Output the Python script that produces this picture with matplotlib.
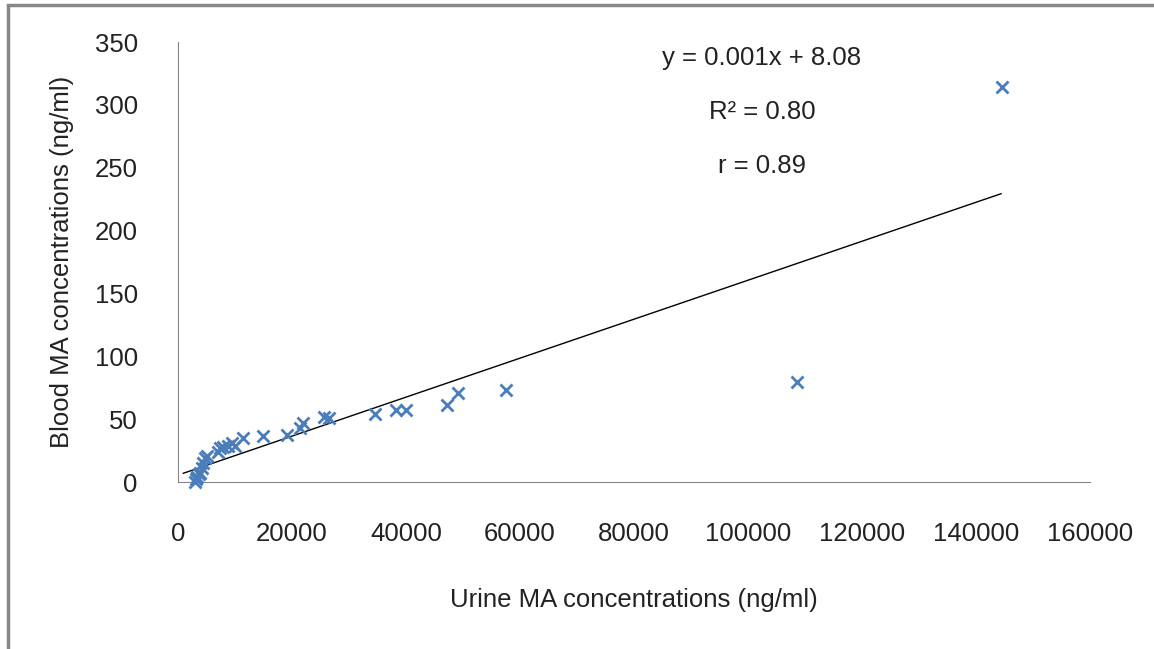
import numpy as np
import matplotlib.pyplot as plt
from matplotlib.patches import Rectangle

plt.rcParams['font.family'] = ['Liberation Sans', 'DejaVu Sans']

# urine vs blood MA concentrations (ng/ml)
urine = [3000, 3160, 3330, 3680, 3860, 4200, 4390, 4740, 5090, 7020, 7370, 7900,
         8770, 9470, 10000, 11400, 14900, 19100, 21400, 21900, 25600, 26500,
         34550, 38240, 40000, 47180, 49100, 57540, 108600, 144540]
blood = [0, 2, 4, 6, 7, 11, 15, 19, 21, 24, 27, 28,
         29, 31, 29, 35, 36.6, 37.4, 43, 47, 51.7, 51,
         54, 57, 57, 61, 70.8, 73, 79.5, 314]

# trend line as drawn
line_x = [930, 144400]
slope = 0.00155
intercept = 5.5

eq_text = ["y = 0.001x + 8.08", "R² = 0.80", "r = 0.89"]

fs = 18.5
tc = '#222222'

fig = plt.figure(figsize=(11.54, 6.49), dpi=100)
ax = fig.add_axes([178/1154, 1-482/649, 912/1154, 440/649])

ax.plot(urine, blood, ls='none', marker='x', ms=8, mew=2, color='#4a7ebb', clip_on=False, zorder=3)
lx = np.array(line_x)
ax.plot(lx, slope*lx + intercept, color='black', lw=1)

ax.set_xlim(0, 160000)
ax.set_ylim(0, 350)
ax.set_xticks(np.arange(0, 160001, 20000))
ax.set_yticks(np.arange(0, 351, 50))
for s in ['top', 'right']:
    ax.spines[s].set_visible(False)
for s in ['left', 'bottom']:
    ax.spines[s].set_color('#868686')
ax.tick_params(length=0, labelsize=fs, labelcolor=tc)
ax.tick_params(axis='x', pad=29)
ax.tick_params(axis='y', pad=29)

ax.set_xlabel("Urine MA concentrations (ng/ml)", fontsize=fs, color=tc, labelpad=30)
ax.set_ylabel("Blood MA concentrations (ng/ml)", fontsize=fs, color=tc, labelpad=15)

for i, t in enumerate(eq_text):
    fig.text(762/1154, 1-(58+54*i)/649, t, fontsize=fs, color=tc, ha='center', va='center')

fig.patches.append(Rectangle((8/1154, -0.1), 1.2, 1.1-5/649, transform=fig.transFigure,
                             fill=False, edgecolor='#888888', lw=2.5))

fig.savefig('out.png', dpi=100)
